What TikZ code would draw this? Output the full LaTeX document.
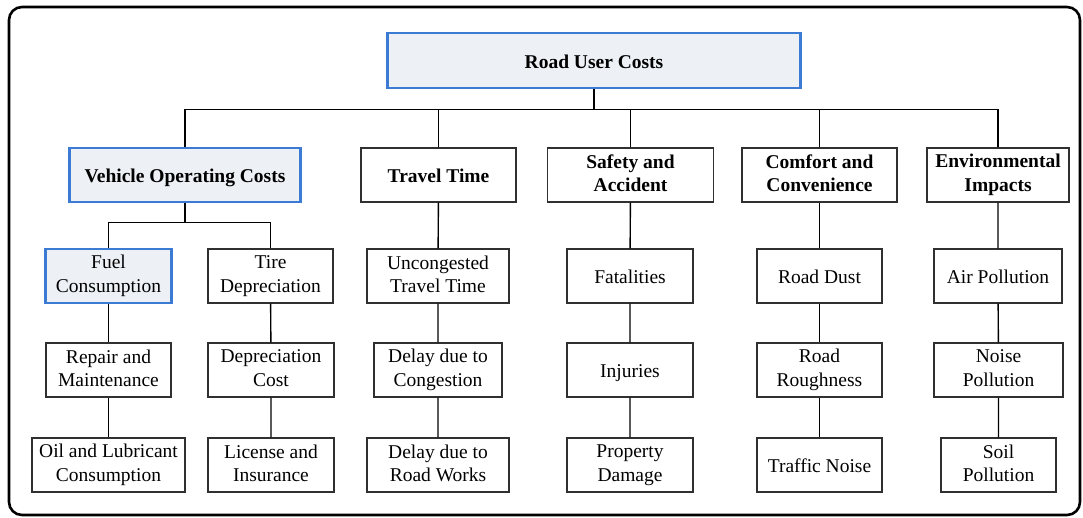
\documentclass[tikz,border=0pt]{standalone}
\usepackage{fontspec}
\setmainfont{Liberation Serif}
\definecolor{bluebd}{HTML}{3B7BD4}
\definecolor{bluefill}{HTML}{EDF0F5}
\definecolor{boxbd}{HTML}{303030}
\newcommand{\mystrut}{\rule[-4pt]{0pt}{23.5pt}}
\begin{document}
\begin{tikzpicture}[x=1pt,y=-1pt,
  box/.style={draw=boxbd,line width=1.1pt,fill=white,inner sep=0pt,align=center,
    minimum height=54pt,font=\fontsize{19.5}{23.5}\selectfont,
    execute at begin node={\mystrut}, execute at end node={\mystrut}},
  hbox/.style={box,font=\fontsize{19.5}{23.5}\selectfont\bfseries},
  bluebox/.style={draw=bluebd,line width=2.6pt,fill=bluefill},
  conn/.style={draw=black,line width=1.4pt}]
\useasboundingbox (0,0) rectangle (1083,517);
\draw[line width=2.6pt,rounded corners=13pt] (9,7) rectangle (1080,515);
% root
\node[hbox,bluebox,minimum width=413pt,minimum height=55pt] (root) at (594,60.5) {Road User Costs};
% level 1
\node[hbox,bluebox,minimum width=231pt] (voc) at (185,175) {Vehicle Operating Costs};
\node[hbox,minimum width=155pt] (tt) at (438.5,175) {Travel Time};
\node[hbox,minimum width=166pt] (sa) at (630.5,175) {Safety and\\Accident};
\node[hbox,minimum width=155pt] (cc) at (819.5,175) {Comfort and\\Convenience};
\node[hbox,minimum width=142pt] (ei) at (998,175) {Environmental\\Impacts};
% level 2
\node[box,bluebox,minimum width=126pt] (fuel) at (108.5,276) {Fuel\\Consumption};
\node[box,minimum width=125pt] (tire) at (270.5,276) {Tire\\Depreciation};
\node[box,minimum width=142pt] (unc) at (438,276) {Uncongested\\Travel Time};
\node[box,minimum width=126pt] (fat) at (630,276) {Fatalities};
\node[box,minimum width=125pt] (dust) at (819.5,276) {Road Dust};
\node[box,minimum width=128pt] (air) at (998,276) {Air Pollution};
% level 3
\node[box,minimum width=125pt] (rep) at (108.5,370) {Repair and\\Maintenance};
\node[box,minimum width=126pt] (dep) at (271,370) {Depreciation\\Cost};
\node[box,minimum width=128pt] (dcong) at (438,370) {Delay due to\\Congestion};
\node[box,minimum width=126pt] (inj) at (630,370) {Injuries};
\node[box,minimum width=125pt] (rough) at (819.5,370) {Road\\Roughness};
\node[box,minimum width=129pt] (noise) at (998.5,370) {Noise\\Pollution};
% level 4
\node[box,minimum width=153pt] (oil) at (108.5,465) {Oil and Lubricant\\Consumption};
\node[box,minimum width=126pt] (lic) at (271,465) {License and\\Insurance};
\node[box,minimum width=142pt] (drw) at (438,465) {Delay due to\\Road Works};
\node[box,minimum width=126pt] (prop) at (630,465) {Property\\Damage};
\node[box,minimum width=125pt] (tnoise) at (819.5,465) {Traffic Noise};
\node[box,minimum width=115pt] (soil) at (998.5,465) {Soil\\Pollution};
% connectors
\foreach \c in {voc,tt,sa,cc,ei}{
  \draw[conn] (root.south) -- ++(0,20) -| (\c.north);
}
\foreach \c in {fuel,tire}{
  \draw[conn] (voc.south) -- ++(0,19) -| (\c.north);
}
\draw[conn] (fuel) -- (rep) (rep) -- (oil);
\draw[conn] (tire) -- (dep) (dep) -- (lic);
\draw[conn] (tt) -- (unc) (unc) -- (dcong) (dcong) -- (drw);
\draw[conn] (sa) -- (fat) (fat) -- (inj) (inj) -- (prop);
\draw[conn] (cc.south) -- (cc.south |- dust.north) (dust) -- (rough) (rough) -- (tnoise);
\draw[conn] (ei) -- (air) (air) -- (noise) (noise) -- (soil);
\end{tikzpicture}
\end{document}
